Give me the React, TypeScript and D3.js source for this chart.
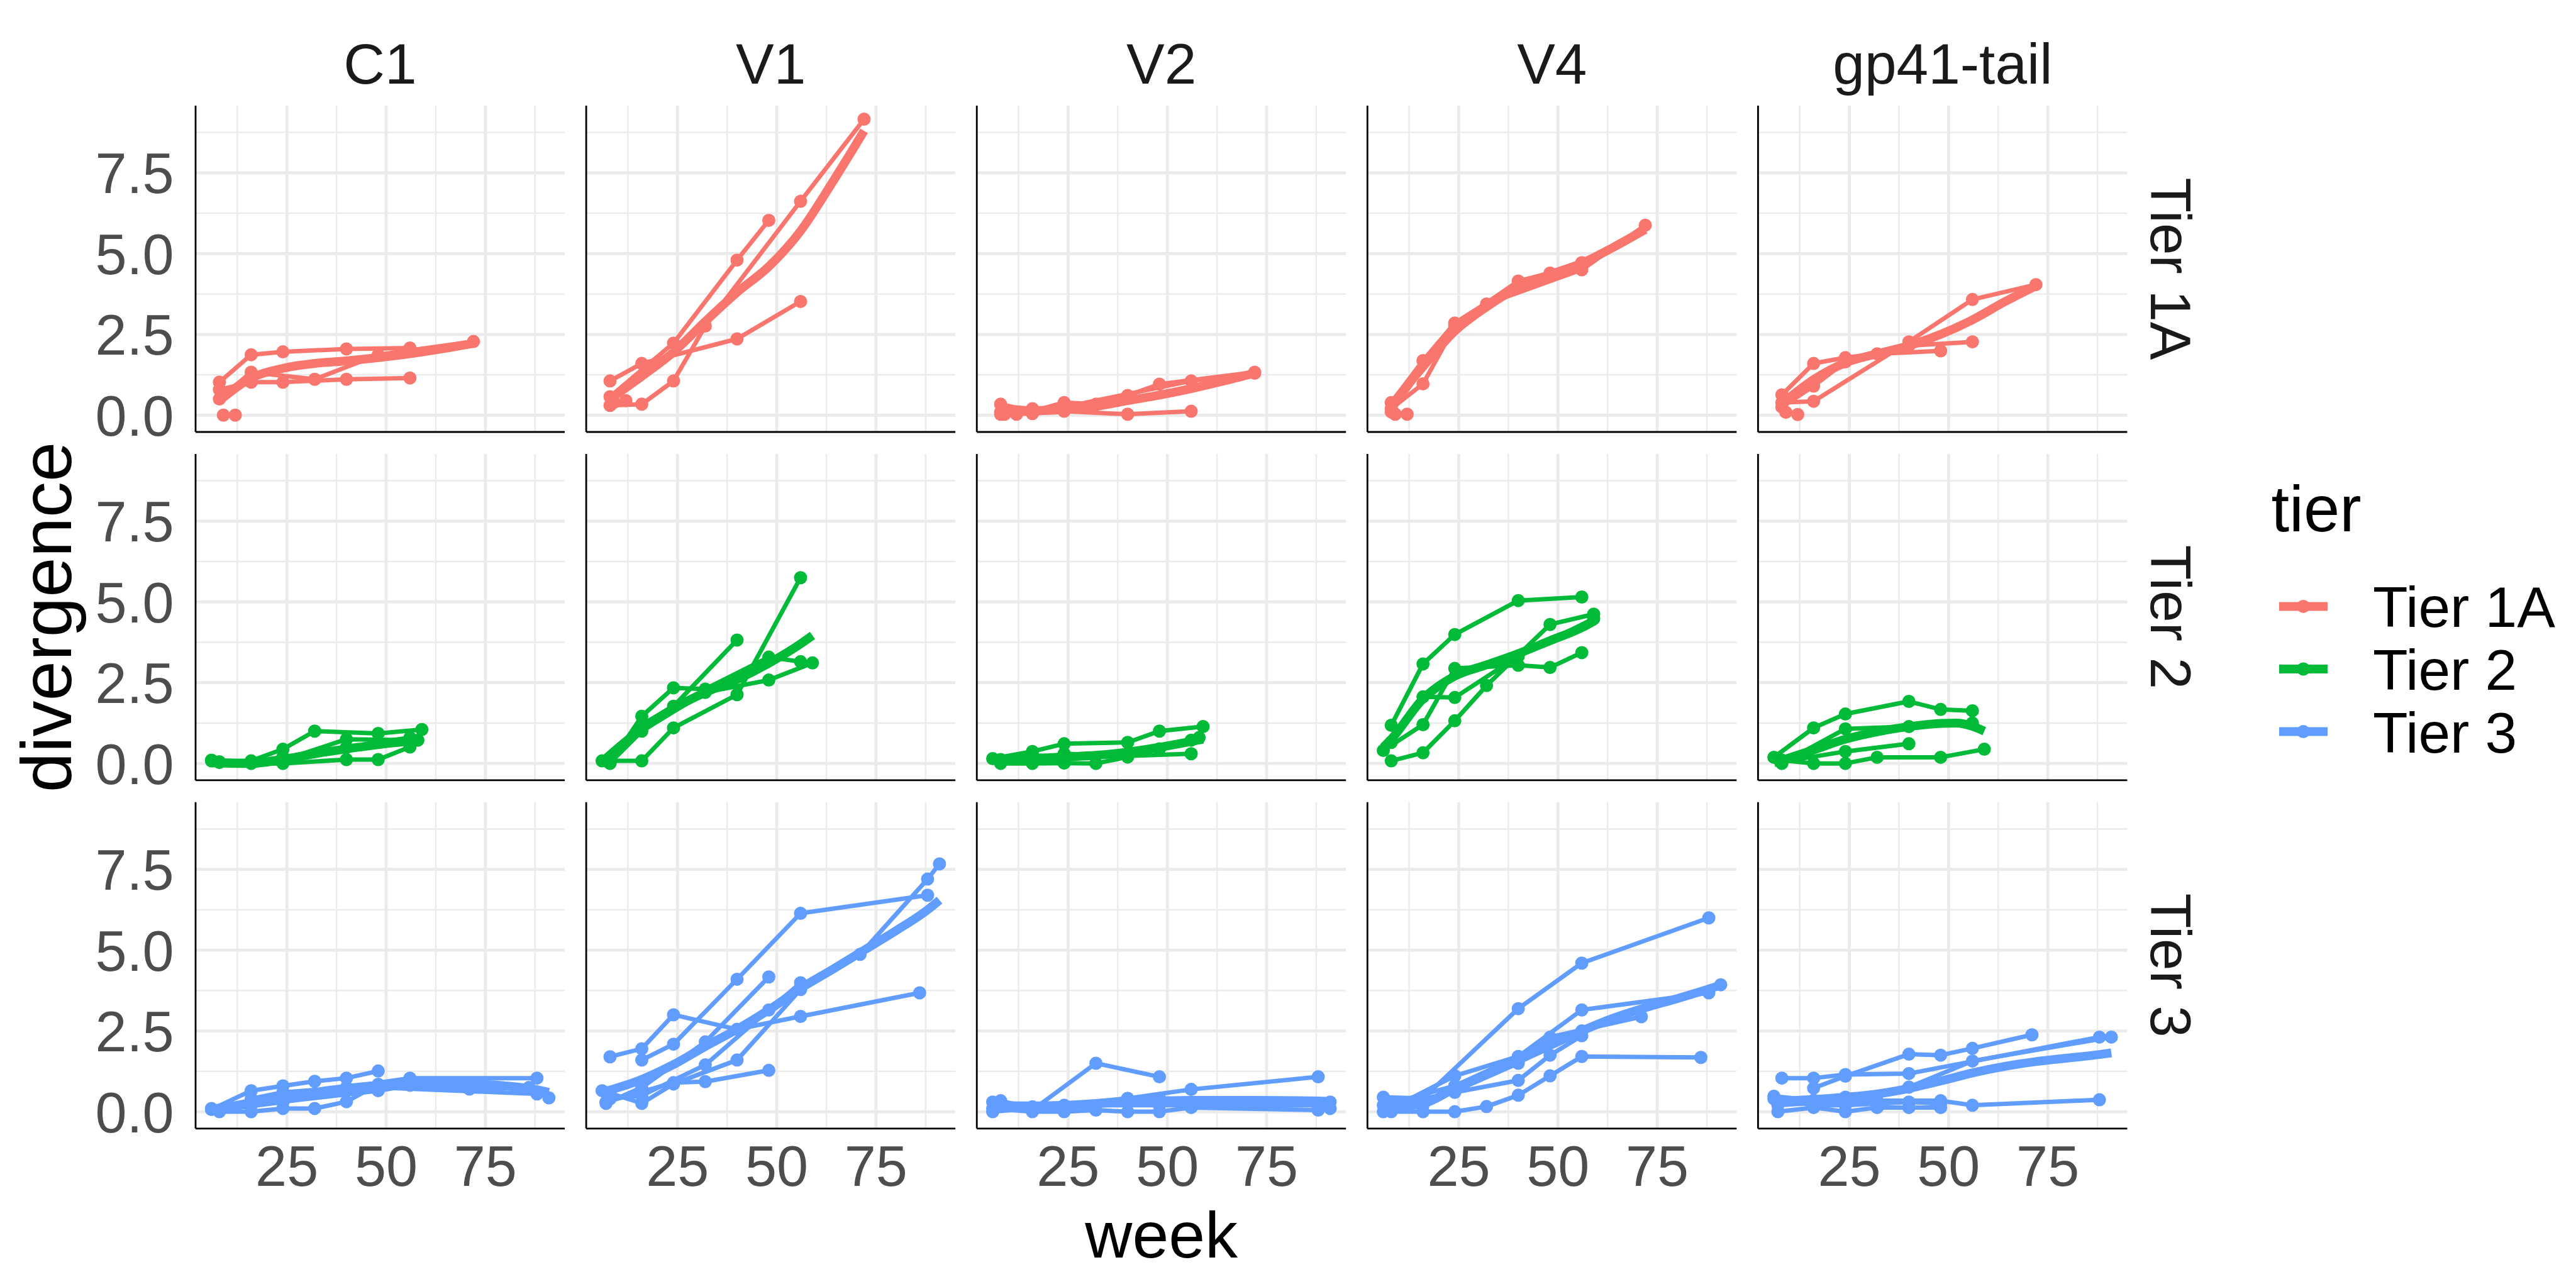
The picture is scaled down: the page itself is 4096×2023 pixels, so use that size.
import React, { useEffect, useRef } from "react";
import * as d3 from "d3";

// facet labels and colours (ggplot default hue palette)
const regions = ["C1", "V1", "V2", "V4", "gp41-tail"];
const tiers = ["Tier 1A", "Tier 2", "Tier 3"];
const tierColours = ["#F8766D", "#00BA38", "#619CFF"];

// axis breaks
const weekTicks = [25, 50, 75];
const weekMinor = [12.5, 37.5, 62.5, 87.5];
const divergenceTicks = [0, 2.5, 5, 7.5];
const divergenceMinor = [1.25, 3.75, 6.25, 8.75];

// every panel: one [week, divergence] list per patient, plus the smoothed trend

// ---- Tier 1A ----
const c1Tier1A = [
  [[8, 1.02], [16, 1.87], [24, 1.96], [40, 2.05], [56, 2.08]],
  [[8, 0.79], [16, 1.02], [24, 1.02], [40, 1.11], [56, 1.15]],
  [[8, 0.5], [16, 1.33], [32, 1.11], [48, 1.87], [72, 2.28]],
  [[9, 0], [12, 0]],
];
const c1Tier1ASmooth = [[8, 0.45], [16, 1.15], [24, 1.45], [32, 1.6], [40, 1.68], [48, 1.78], [56, 1.9], [64, 2.05], [72, 2.22]];

const v1Tier1A = [
  [[8, 1.06], [16, 1.6], [40, 2.36], [56, 3.52]],
  [[8, 0.3], [16, 0.34], [24, 1.06], [32, 2.76], [56, 6.62], [72, 9.16]],
  [[8, 0.57], [24, 2.23], [40, 4.8], [48, 6.03]],
  [[9, 0.4], [12, 0.45]],
];
const v1Tier1ASmooth = [[8, 0.5], [16, 1.2], [24, 1.95], [32, 2.9], [40, 3.8], [48, 4.6], [56, 5.7], [64, 7.2], [72, 8.8]];

const v2Tier1A = [
  [[8, 0.34], [16, 0.12], [24, 0.39], [32, 0.34], [40, 0.61], [48, 0.96], [72, 1.33]],
  [[8, 0.03], [16, 0.05], [24, 0.12], [40, 0.03], [56, 0.12]],
  [[8, 0.1], [16, 0.2], [24, 0.25], [56, 1.06], [72, 1.3]],
  [[9, 0.03], [12, 0.03]],
];
const v2Tier1ASmooth = [[8, 0.22], [16, 0.14], [24, 0.17], [32, 0.27], [40, 0.45], [48, 0.62], [56, 0.82], [64, 1.05], [72, 1.3]];

const v4Tier1A = [
  [[8, 0.39], [16, 1.69], [24, 2.85], [40, 4.1], [56, 4.72]],
  [[8, 0.2], [16, 0.97], [24, 2.75], [32, 3.44], [56, 4.5], [72, 5.88]],
  [[8, 0.1], [24, 2.8], [40, 4.15], [48, 4.4]],
  [[9, 0.03], [12, 0.03]],
];
const v4Tier1ASmooth = [[8, 0.3], [16, 1.5], [24, 2.6], [32, 3.35], [40, 3.95], [48, 4.35], [56, 4.7], [64, 5.2], [72, 5.75]];

const gp41Tier1A = [
  [[8, 0.63], [16, 1.6], [24, 1.78], [32, 1.9], [48, 1.99]],
  [[8, 0.39], [16, 0.43], [40, 2.27], [56, 3.58], [72, 4.04]],
  [[8, 0.25], [16, 0.9], [24, 1.65], [40, 2.15], [56, 2.27]],
  [[9, 0.09], [12, 0.02]],
];
const gp41Tier1ASmooth = [[8, 0.35], [16, 1.1], [24, 1.62], [32, 1.9], [40, 2.15], [48, 2.5], [56, 2.95], [64, 3.5], [72, 4.0]];

// ---- Tier 2 ----
const c1Tier2 = [
  [[6, 0.08], [16, 0.08], [24, 0.44], [32, 1.0], [48, 0.93], [59, 1.05]],
  [[8, 0.05], [16, 0], [24, 0], [40, 0.12], [48, 0.12], [56, 0.51]],
  [[8, 0.03], [24, 0.1], [40, 0.75], [58, 0.72]],
  [[6, 0.1], [16, 0.05], [24, 0.2], [40, 0.5], [56, 0.8]],
];
const c1Tier2Smooth = [[6, 0.02], [16, 0.0], [24, 0.12], [32, 0.3], [40, 0.45], [48, 0.58], [56, 0.7], [59, 0.75]];

const v1Tier2 = [
  [[8, 0], [16, 1.46], [24, 2.34], [32, 2.3], [48, 3.29], [56, 3.15]],
  [[6, 0.08], [16, 0.08], [24, 1.1], [40, 2.13], [56, 5.75]],
  [[8, 0.05], [16, 1.2], [24, 1.77], [40, 3.82]],
  [[8, 0.02], [16, 1.0], [32, 2.2], [48, 2.58], [59, 3.11]],
];
const v1Tier2Smooth = [[6, 0.05], [16, 1.07], [24, 1.7], [32, 2.2], [40, 2.6], [48, 3.1], [56, 3.7], [59, 3.96]];

const v2Tier2 = [
  [[6, 0.15], [16, 0.37], [24, 0.61], [40, 0.65], [48, 1.0], [59, 1.14]],
  [[8, 0.08], [16, 0.1], [24, 0.3], [40, 0.23], [56, 0.3]],
  [[8, 0], [16, 0], [24, 0.01], [32, 0], [40, 0.2], [56, 0.72]],
  [[8, 0.12], [16, 0.25], [24, 0.2], [48, 0.45], [58, 0.8]],
];
const v2Tier2Smooth = [[6, 0.12], [16, 0.15], [24, 0.2], [32, 0.25], [40, 0.35], [48, 0.5], [56, 0.68], [59, 0.75]];

const v4Tier2 = [
  [[8, 1.18], [16, 3.08], [24, 3.99], [40, 5.04], [56, 5.15]],
  [[6, 0.4], [16, 1.2], [24, 2.94], [40, 3.04], [48, 2.97], [56, 3.43]],
  [[8, 0.08], [16, 0.33], [24, 1.32], [32, 2.41], [48, 4.3], [59, 4.62]],
  [[8, 0.65], [16, 2.06], [24, 2.04], [40, 3.32], [59, 4.48]],
];
const v4Tier2Smooth = [[6, 0.5], [8, 0.75], [16, 2.0], [24, 2.7], [32, 3.05], [40, 3.4], [48, 3.8], [56, 4.2], [59, 4.4]];

const gp41Tier2 = [
  [[6, 0.19], [16, 1.1], [24, 1.53], [40, 1.92], [48, 1.67], [56, 1.63]],
  [[8, 0], [24, 1.07], [40, 1.14], [56, 1.25]],
  [[8, 0.05], [24, 0.37], [40, 0.61]],
  [[8, 0.1], [16, 0], [24, 0], [32, 0.19], [48, 0.19], [59, 0.44]],
];
const gp41Tier2Smooth = [[6, 0.02], [16, 0.42], [24, 0.75], [32, 0.98], [40, 1.14], [48, 1.24], [52, 1.25], [56, 1.15], [59, 1.0]];

// ---- Tier 3 ----
const c1Tier3 = [
  [[6, 0.07], [16, 0.65], [24, 0.8], [32, 0.94], [40, 1.04], [48, 1.26]],
  [[8, 0], [16, 0], [24, 0.1], [32, 0.1], [40, 0.31], [48, 0.85]],
  [[16, 0.4], [24, 0.6], [40, 0.75], [56, 1.04], [88, 1.04]],
  [[6, 0.1], [16, 0.2], [48, 0.65], [56, 0.82], [71, 0.7], [86, 0.75], [91, 0.43]],
  [[8, 0.05], [24, 0.3], [48, 0.75], [88, 0.55]],
];
const c1Tier3Smooth = [[6, 0.05], [16, 0.28], [24, 0.45], [32, 0.6], [40, 0.72], [48, 0.82], [56, 0.9], [64, 0.9], [72, 0.86], [80, 0.8], [88, 0.68], [91, 0.6]];

const v1Tier3 = [
  [[8, 1.7], [16, 1.95], [24, 3.0], [40, 2.55], [56, 2.95], [86, 3.68]],
  [[16, 1.6], [24, 2.09], [40, 4.1], [56, 6.14], [88, 6.7]],
  [[7, 0.26], [16, 0.75], [32, 2.16], [48, 4.17]],
  [[6, 0.65], [16, 0.26], [24, 0.86], [40, 1.6], [56, 3.78], [71, 4.87], [88, 7.2], [91, 7.67]],
  [[7, 0.3], [24, 0.9], [32, 0.93], [48, 1.28]],
  [[8, 0.4], [16, 0.5], [32, 1.45], [48, 3.15], [56, 3.99]],
];
const v1Tier3Smooth = [[6, 0.6], [16, 1.0], [24, 1.46], [32, 2.02], [40, 2.55], [48, 3.15], [56, 3.82], [64, 4.4], [72, 5.0], [80, 5.6], [88, 6.25], [91, 6.55]];

const v2Tier3 = [
  [[6, 0.3], [16, 0.05], [32, 1.5], [48, 1.08]],
  [[8, 0.34], [16, 0.1], [40, 0.41], [56, 0.69], [88, 1.08]],
  [[6, 0.1], [16, 0], [24, 0], [32, 0.05], [40, 0], [48, 0], [56, 0.13], [88, 0.05]],
  [[8, 0.2], [16, 0.15], [40, 0.41], [48, 0.41], [91, 0.3]],
  [[6, 0], [24, 0.2], [48, 0.2], [88, 0.2], [91, 0.1]],
];
const v2Tier3Smooth = [[6, 0.2], [16, 0.18], [24, 0.2], [32, 0.25], [40, 0.3], [48, 0.33], [56, 0.35], [72, 0.35], [88, 0.33], [91, 0.32]];

const v4Tier3 = [
  [[6, 0.45], [16, 0.41], [40, 3.19], [56, 4.6], [88, 6.0]],
  [[8, 0.1], [24, 1.11], [40, 1.71], [56, 3.15], [88, 3.68]],
  [[6, 0], [16, 0], [24, 0], [32, 0.16], [40, 0.51], [48, 1.11], [56, 1.71], [86, 1.68]],
  [[8, 0.2], [24, 0.6], [40, 0.97], [48, 1.75], [56, 2.35]],
  [[8, 0], [16, 0.2], [40, 1.5], [48, 2.31], [71, 2.94]],
  [[6, 0.2], [24, 0.8], [40, 1.7], [56, 2.5], [91, 3.93]],
];
const v4Tier3Smooth = [[6, 0.12], [16, 0.25], [24, 0.72], [32, 1.15], [40, 1.6], [48, 2.05], [56, 2.5], [64, 2.9], [72, 3.22], [80, 3.5], [88, 3.8], [91, 3.92]];

const gp41Tier3 = [
  [[8, 1.04], [16, 1.04], [24, 1.15], [40, 1.18], [88, 2.31]],
  [[16, 0.73], [24, 1.1], [40, 1.78], [48, 1.75], [56, 1.96], [71, 2.38]],
  [[6, 0.48], [16, 0.35], [24, 0.45], [40, 0.76], [56, 1.57], [91, 2.31]],
  [[7, 0], [16, 0.13], [24, 0], [32, 0.13], [40, 0.13], [48, 0.13]],
  [[7, 0.2], [16, 0.27], [32, 0.34], [48, 0.34], [56, 0.2], [88, 0.37]],
  [[6, 0.4], [16, 0.2], [24, 0.2], [40, 0.3], [48, 0.25]],
];
const gp41Tier3Smooth = [[6, 0.32], [16, 0.38], [24, 0.45], [32, 0.55], [40, 0.72], [48, 0.95], [56, 1.2], [64, 1.4], [72, 1.55], [80, 1.66], [88, 1.77], [91, 1.82]];

// rows = tiers, columns = regions
const patientLines = [
  [c1Tier1A, v1Tier1A, v2Tier1A, v4Tier1A, gp41Tier1A],
  [c1Tier2, v1Tier2, v2Tier2, v4Tier2, gp41Tier2],
  [c1Tier3, v1Tier3, v2Tier3, v4Tier3, gp41Tier3],
];
const smoothLines = [
  [c1Tier1ASmooth, v1Tier1ASmooth, v2Tier1ASmooth, v4Tier1ASmooth, gp41Tier1ASmooth],
  [c1Tier2Smooth, v1Tier2Smooth, v2Tier2Smooth, v4Tier2Smooth, gp41Tier2Smooth],
  [c1Tier3Smooth, v1Tier3Smooth, v2Tier3Smooth, v4Tier3Smooth, gp41Tier3Smooth],
];

// page + panel geometry
const svgWidth = 4096;
const svgHeight = 2023;
const panelLeft = 311;
const panelTop = 168;
const panelWidth = 587;
const panelHeight = 519;
const colStep = 621.1;
const rowStep = 553.9;

const font = "'Liberation Sans', Arial, Helvetica, sans-serif";
const gridColour = "#EBEBEB";
const lineWidth = 7;
const smoothWidth = 14;
const pointRadius = 10.5;

const xScale = d3.scaleLinear().domain([2, 95]).range([0, panelWidth]);
const yScale = d3.scaleLinear().domain([-0.52, 9.58]).range([panelHeight, 0]);

const line = d3.line<number[]>()
  .x(d => xScale(d[0]))
  .y(d => yScale(d[1]));

const smooth = d3.line<number[]>()
  .x(d => xScale(d[0]))
  .y(d => yScale(d[1]))
  .curve(d3.curveMonotoneX);

const App = () => {
  const ref = useRef<SVGSVGElement>(null);

  useEffect(() => {
    const svg = d3.select(ref.current);
    svg.selectAll("*").remove();

    svg.append("rect")
      .attr("width", svgWidth)
      .attr("height", svgHeight)
      .attr("fill", "white");

    tiers.forEach((tier, r) => {
      regions.forEach((region, c) => {
        const colour = tierColours[r];
        const g = svg.append("g")
          .attr("transform", `translate(${panelLeft + c * colStep},${panelTop + r * rowStep})`);

        // minor grid first, major on top
        g.selectAll("line.hminor").data(divergenceMinor).enter().append("line")
          .attr("x1", 0).attr("x2", panelWidth)
          .attr("y1", d => yScale(d)).attr("y2", d => yScale(d))
          .attr("stroke", gridColour).attr("stroke-width", 2.4);
        g.selectAll("line.vminor").data(weekMinor).enter().append("line")
          .attr("y1", 0).attr("y2", panelHeight)
          .attr("x1", d => xScale(d)).attr("x2", d => xScale(d))
          .attr("stroke", gridColour).attr("stroke-width", 2.4);
        g.selectAll("line.hmajor").data(divergenceTicks).enter().append("line")
          .attr("x1", 0).attr("x2", panelWidth)
          .attr("y1", d => yScale(d)).attr("y2", d => yScale(d))
          .attr("stroke", gridColour).attr("stroke-width", 4.8);
        g.selectAll("line.vmajor").data(weekTicks).enter().append("line")
          .attr("y1", 0).attr("y2", panelHeight)
          .attr("x1", d => xScale(d)).attr("x2", d => xScale(d))
          .attr("stroke", gridColour).attr("stroke-width", 4.8);

        // one line per patient
        const patients = patientLines[r][c];
        g.selectAll("path.patient").data(patients).enter().append("path")
          .attr("d", d => line(d))
          .attr("fill", "none")
          .attr("stroke", colour)
          .attr("stroke-width", lineWidth)
          .attr("stroke-linejoin", "round");

        g.selectAll("circle").data(patients.flat()).enter().append("circle")
          .attr("cx", d => xScale(d[0]))
          .attr("cy", d => yScale(d[1]))
          .attr("r", pointRadius)
          .attr("fill", colour);

        // smoothed trend
        g.append("path")
          .attr("d", smooth(smoothLines[r][c]))
          .attr("fill", "none")
          .attr("stroke", colour)
          .attr("stroke-width", smoothWidth);

        // axis lines
        g.append("line")
          .attr("x1", 0).attr("x2", 0).attr("y1", 0).attr("y2", panelHeight)
          .attr("stroke", "black").attr("stroke-width", 2.8);
        g.append("line")
          .attr("x1", 0).attr("x2", panelWidth).attr("y1", panelHeight).attr("y2", panelHeight)
          .attr("stroke", "black").attr("stroke-width", 2.8);

        // y tick labels only on the first column
        if (c === 0) {
          g.selectAll("text.ytick").data(divergenceTicks).enter().append("text")
            .attr("x", 276.6 - panelLeft)
            .attr("y", d => yScale(d) + 32.5)
            .attr("text-anchor", "end")
            .attr("font-family", font)
            .attr("font-size", 90)
            .attr("fill", "#4D4D4D")
            .text(d => d3.format(".1f")(d));
        }

        // x tick labels only on the bottom row
        if (r === tiers.length - 1) {
          g.selectAll("text.xtick").data(weekTicks).enter().append("text")
            .attr("x", d => xScale(d))
            .attr("y", 1886 - (panelTop + r * rowStep))
            .attr("text-anchor", "middle")
            .attr("font-family", font)
            .attr("font-size", 90)
            .attr("fill", "#4D4D4D")
            .text(d => d);
        }
      });
    });

    // column strips
    svg.selectAll("text.region").data(regions).enter().append("text")
      .attr("x", (d, i) => panelLeft + i * colStep + panelWidth / 2)
      .attr("y", 132.6)
      .attr("text-anchor", "middle")
      .attr("font-family", font)
      .attr("font-size", 91)
      .attr("fill", "#1A1A1A")
      .text(d => d);

    // row strips, rotated to read downwards
    svg.selectAll("text.tier").data(tiers).enter().append("text")
      .attr("transform", (d, i) => `translate(3419.6,${panelTop + i * rowStep + panelHeight / 2}) rotate(90)`)
      .attr("text-anchor", "middle")
      .attr("font-family", font)
      .attr("font-size", 91)
      .attr("fill", "#1A1A1A")
      .text(d => d);

    // axis titles
    const plotRight = panelLeft + (regions.length - 1) * colStep + panelWidth;
    const plotBottom = panelTop + (tiers.length - 1) * rowStep + panelHeight;
    svg.append("text")
      .attr("x", (panelLeft + plotRight) / 2)
      .attr("y", 2000)
      .attr("text-anchor", "middle")
      .attr("font-family", font)
      .attr("font-size", 104)
      .attr("fill", "black")
      .text("week");
    svg.append("text")
      .attr("transform", `translate(113,${(panelTop + plotBottom) / 2}) rotate(-90)`)
      .attr("text-anchor", "middle")
      .attr("font-family", font)
      .attr("font-size", 114)
      .attr("fill", "black")
      .text("divergence");

    // legend
    const legend = svg.append("g");
    legend.append("text")
      .attr("x", 3611.5)
      .attr("y", 845)
      .attr("font-family", font)
      .attr("font-size", 103)
      .attr("fill", "black")
      .text("tier");

    tiers.forEach((tier, i) => {
      const cy = 964.4 + i * 99.6;
      legend.append("line")
        .attr("x1", 3624).attr("x2", 3701).attr("y1", cy).attr("y2", cy)
        .attr("stroke", tierColours[i]).attr("stroke-width", smoothWidth);
      legend.append("circle")
        .attr("cx", 3662.5).attr("cy", cy).attr("r", pointRadius)
        .attr("fill", tierColours[i]);
      legend.append("text")
        .attr("x", 3773)
        .attr("y", cy + 33)
        .attr("font-family", font)
        .attr("font-size", 91)
        .attr("fill", "black")
        .text(tier);
    });
  }, []);

  return (
    <svg
      ref={ref}
      width={svgWidth}
      height={svgHeight}
      style={{ position: "absolute", left: 0, top: 0, display: "block" }}
    />
  );
};

export default App;
